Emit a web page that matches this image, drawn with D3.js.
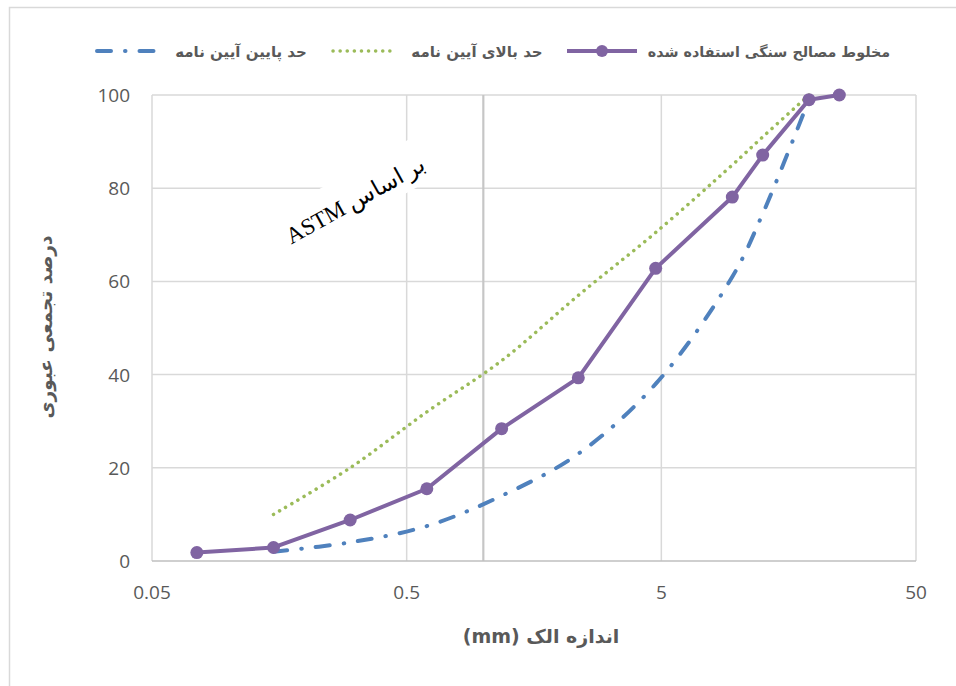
<!DOCTYPE html>
<html>
<head>
<meta charset="utf-8">
<script src="https://cdn.jsdelivr.net/npm/d3@7"></script>
<style>
  body { margin: 0; background: #fff; }
  svg { display: block; }
</style>
</head>
<body>
<svg id="chart" width="956" height="686"></svg>
<script>
// sieve sizes (mm) and passing percentages
let mixSizes = [0.075, 0.15, 0.3, 0.6, 1.18, 2.36, 4.75, 9.5, 12.5, 19, 25];
let mixValues = [1.8, 2.9, 8.8, 15.5, 28.4, 39.3, 62.8, 78.1, 87.1, 99, 100];
let limitSizes = [0.15, 0.3, 0.6, 1.18, 2.36, 4.75, 9.5, 12.5, 19];
let lowerValues = [2, 4, 7.5, 14, 23, 38, 61, 74.5, 99];
let upperValues = [10, 20, 32, 43, 57, 70.5, 85, 91, 100];
let xTicks = [0.05, 0.5, 5, 50];
let yTicks = [0, 20, 40, 60, 80, 100];

let legendItems = [
  { name: "حد پایین آیین نامه", key: "lower" },
  { name: "حد بالای آیین نامه", key: "upper" },
  { name: "مخلوط مصالح سنگی استفاده شده", key: "mix" }
];

let styles = {
  lower: { color: "#4f81bd", width: 4, dash: "14,14,0.5,14" },
  upper: { color: "#9bbb59", width: 3.5, dash: "0.1,7" },
  mix: { color: "#8064a2", width: 4, dash: null }
};

let svg = d3.select("#chart");
let margin = { left: 152, right: 40, top: 95, bottom: 125 };
let W = 956, H = 686;

let x = d3.scaleLog().domain([0.05, 50]).range([margin.left, W - margin.right]);
let y = d3.scaleLinear().domain([0, 100]).range([H - margin.bottom, margin.top]);

// chart border
svg.append("rect")
  .attr("x", 9.5).attr("y", 7.5)
  .attr("width", 960).attr("height", 700)
  .attr("fill", "none").attr("stroke", "#d9d9d9").attr("stroke-width", 1.5);

// gridlines
svg.append("g").selectAll("line").data(yTicks.slice(1)).join("line")
  .attr("x1", x(0.05)).attr("x2", x(50))
  .attr("y1", d => y(d)).attr("y2", d => y(d))
  .attr("stroke", "#d9d9d9").attr("stroke-width", 1.5);

svg.append("g").selectAll("line").data(xTicks).join("line")
  .attr("x1", d => x(d)).attr("x2", d => x(d))
  .attr("y1", y(0)).attr("y2", y(100))
  .attr("stroke", "#d9d9d9").attr("stroke-width", 1.5);

// reference line at 1 mm
svg.append("line")
  .attr("x1", x(1)).attr("x2", x(1))
  .attr("y1", y(0)).attr("y2", y(100))
  .attr("stroke", "#c6c6c6").attr("stroke-width", 2.2);

// x axis line
svg.append("line")
  .attr("x1", x(0.05)).attr("x2", x(50))
  .attr("y1", y(0)).attr("y2", y(0))
  .attr("stroke", "#bfbfbf").attr("stroke-width", 1.5);

// tick labels
let tickFont = "Open Sans, Lato, sans-serif";
svg.append("g").selectAll("text").data(yTicks).join("text")
  .attr("x", 130).attr("y", d => y(d) + 7)
  .attr("text-anchor", "end")
  .attr("font-family", tickFont).attr("font-size", 19)
  .attr("fill", "#595959")
  .text(d => d);

svg.append("g").selectAll("text").data(xTicks).join("text")
  .attr("x", d => x(d)).attr("y", 599)
  .attr("text-anchor", "middle")
  .attr("font-family", tickFont).attr("font-size", 19)
  .attr("fill", "#595959")
  .text(d => d);

// axis titles
svg.append("text")
  .attr("transform", "translate(" + 541 + "," + 643 + ")")
  .attr("text-anchor", "middle")
  .attr("direction", "rtl")
  .attr("font-family", "DejaVu Sans, sans-serif").attr("font-weight", "bold")
  .attr("font-size", 19).attr("fill", "#595959")
  .text("اندازه الک (mm)");

svg.append("text")
  .attr("transform", "translate(" + 52 + "," + 327 + ") rotate(-90)")
  .attr("text-anchor", "middle")
  .attr("direction", "rtl")
  .attr("font-family", "DejaVu Sans, sans-serif").attr("font-weight", "bold")
  .attr("font-size", 18.5).attr("fill", "#595959")
  .text("درصد تجمعی عبوری");

// annotation
let note = svg.append("g").attr("transform", "translate(355,200) rotate(-29)");
note.append("rect")
  .attr("x", -82).attr("y", -27).attr("width", 164).attr("height", 46)
  .attr("fill", "#fff");
note.append("text")
  .attr("x", 0).attr("y", 8)
  .attr("text-anchor", "middle")
  .attr("direction", "rtl")
  .attr("font-family", "Liberation Serif, serif")
  .attr("font-size", 23).attr("fill", "#000")
  .text("بر اساس  ASTM");

// series
let lineGen = d3.line()
  .x(d => x(d[0]))
  .y(d => y(d[1]));

let smoothGen = d3.line()
  .x(d => x(d[0]))
  .y(d => y(d[1]))
  .curve(d3.curveCatmullRom.alpha(0.5));

let lowerData = d3.zip(limitSizes, lowerValues);
let upperData = d3.zip(limitSizes, upperValues);
let mixData = d3.zip(mixSizes, mixValues);

svg.append("path")
  .attr("d", smoothGen(lowerData))
  .attr("fill", "none")
  .attr("stroke", styles.lower.color).attr("stroke-width", styles.lower.width)
  .attr("stroke-dasharray", styles.lower.dash).attr("stroke-linecap", "round");

svg.append("path")
  .attr("d", smoothGen(upperData))
  .attr("fill", "none")
  .attr("stroke", styles.upper.color).attr("stroke-width", styles.upper.width)
  .attr("stroke-dasharray", styles.upper.dash).attr("stroke-linecap", "round");

svg.append("path")
  .attr("d", lineGen(mixData))
  .attr("fill", "none")
  .attr("stroke", styles.mix.color).attr("stroke-width", styles.mix.width)
  .attr("stroke-linejoin", "round");

svg.append("g").selectAll("circle").data(mixData).join("circle")
  .attr("cx", d => x(d[0])).attr("cy", d => y(d[1]))
  .attr("r", 6.5)
  .attr("fill", styles.mix.color);

// legend
let legendPos = [
  { x1: 95, x2: 157, tx: 241, fs: 15 },
  { x1: 331, x2: 395, tx: 477, fs: 15 },
  { x1: 567, x2: 637, tx: 769, fs: 14.3 }
];
let legend = svg.append("g");
legendItems.forEach(function(item, i) {
  let s = styles[item.key];
  let p = legendPos[i];
  legend.append("line")
    .attr("x1", p.x1 + (item.key === "mix" ? 0 : 2)).attr("x2", p.x2)
    .attr("y1", 51).attr("y2", 51)
    .attr("stroke", s.color).attr("stroke-width", s.width)
    .attr("stroke-dasharray", s.dash)
    .attr("stroke-linecap", item.key === "mix" ? "butt" : "round");
  if (item.key === "mix") {
    legend.append("circle")
      .attr("cx", (p.x1 + p.x2) / 2).attr("cy", 51).attr("r", 6)
      .attr("fill", s.color);
  }
  legend.append("text")
    .attr("x", p.tx).attr("y", 57)
    .attr("text-anchor", "middle")
    .attr("direction", "rtl")
    .attr("font-family", "DejaVu Sans, sans-serif").attr("font-weight", "bold")
    .attr("font-size", p.fs).attr("fill", "#595959")
    .text(item.name);
});
</script>
</body>
</html>
